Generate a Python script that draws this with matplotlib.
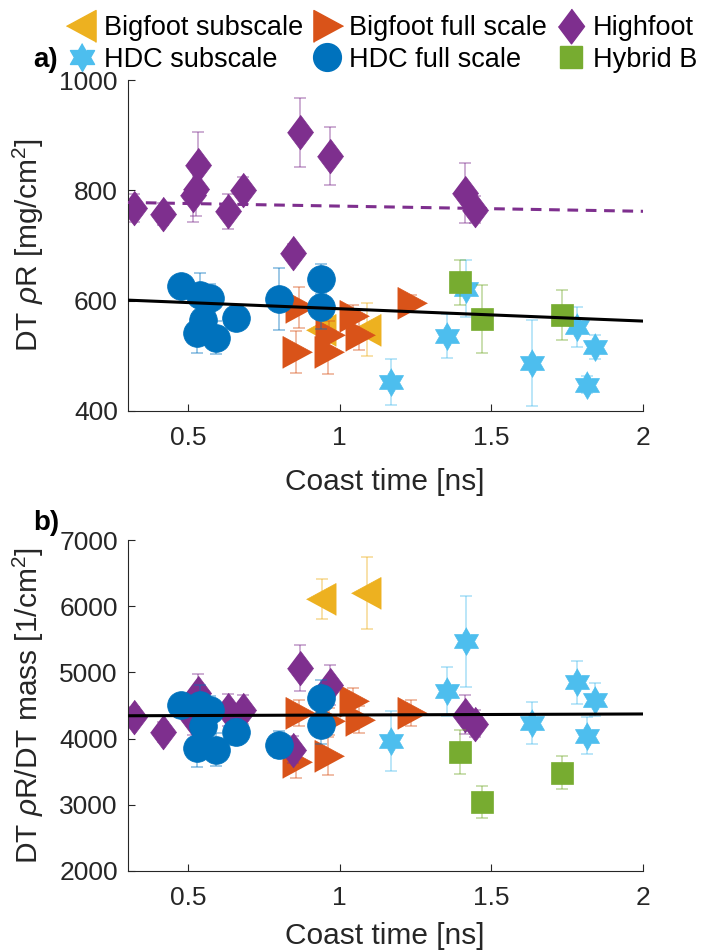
import numpy as np
import matplotlib
matplotlib.use('Agg')
import matplotlib.pyplot as plt
from matplotlib.lines import Line2D

plt.rcParams['font.family'] = ['Liberation Sans', 'DejaVu Sans']
plt.rcParams['mathtext.fontset'] = 'custom'
plt.rcParams['mathtext.rm'] = 'Liberation Sans'
plt.rcParams['mathtext.it'] = 'Liberation Sans:italic'

# --- данные ---
# Bigfoot subscale
t_bf_sub = [0.94, 1.09]
rhor_bf_sub = [547, 547]
rhor_bf_sub_err = [25, 48]
ratio_bf_sub = [6111, 6197]
ratio_bf_sub_err = [300, 540]

# Bigfoot full scale
t_bf_full = [0.865, 0.855, 0.96, 0.965, 1.045, 1.065, 1.235]
rhor_bf_full = [588, 507, 507, 538, 572, 538, 595]
rhor_bf_full_err = [37, 38, 40, 25, 20, 28, 15]
ratio_bf_full = [4388, 3650, 3734, 4261, 4562, 4287, 4388]
ratio_bf_full_err = [200, 250, 290, 200, 200, 200, 200]

# Highfoot
t_hf = [0.321, 0.416, 0.531, 0.525, 0.515, 0.630, 0.681, 0.868, 0.968, 0.847, 1.412, 1.447]
rhor_hf = [768, 757, 846, 803, 792, 762, 800, 905, 862, 687, 795, 765]
rhor_hf_err = [25, 20, 60, 50, 50, 32, 24, 62, 53, 15, 55, 25]
ratio_hf = [4327, 4100, 4689, 4450, 4300, 4437, 4437, 5066, 4814, 3834, 4362, 4226]
ratio_hf_err = [150, 150, 290, 250, 250, 240, 220, 350, 300, 200, 300, 200]

# HDC subscale
t_hdc_sub = [1.169, 1.355, 1.416, 1.635, 1.783, 1.843, 1.814]
rhor_hdc_sub = [453, 536, 622, 487, 552, 516, 448]
rhor_hdc_sub_err = [42, 40, 52, 78, 36, 21, 15]
ratio_hdc_sub = [3960, 4713, 5467, 4237, 4849, 4588, 4045]
ratio_hdc_sub_err = [450, 370, 680, 320, 330, 250, 280]

# HDC full scale
t_hdc_full = [0.478, 0.538, 0.571, 0.549, 0.528, 0.593, 0.659, 0.798, 0.939, 0.939]
rhor_hdc_full = [627, 610, 605, 565, 541, 533, 568, 603, 639, 588]
rhor_hdc_full_err = [20, 41, 25, 30, 35, 30, 20, 56, 27, 40]
ratio_hdc_full = [4513, 4513, 4437, 4186, 3860, 3835, 4096, 3910, 4614, 4211]
ratio_hdc_full_err = [150, 300, 200, 250, 290, 250, 200, 200, 270, 290]

# Hybrid B
t_hyb = [1.397, 1.470, 1.734]
rhor_hyb = [633, 567, 574]
rhor_hyb_err = [41, 62, 45]
ratio_hyb = [3794, 3040, 3483]
ratio_hyb_err = [330, 240, 250]

# линии аппроксимации
fit_t = [0.3, 2.0]
fit_rhor = [601, 563]
fit_rhor_hf = [778, 762]
fit_ratio = [4345, 4372]

labels = ['Bigfoot subscale', 'Bigfoot full scale', 'Highfoot',
          'HDC subscale', 'HDC full scale', 'Hybrid B']
colors = ['#EDB120', '#D95319', '#7E2F8E', '#4DBEEE', '#0072BD', '#77AC30']

# --- маркеры ---
ang = np.deg2rad(90 + 30 * np.arange(12))
rad = np.where(np.arange(12) % 2 == 0, 1.0, 1 / np.sqrt(3))
hexagram = list(zip(rad * np.cos(ang), rad * np.sin(ang)))
diamond = [(0, 1), (0.75, 0), (0, -1), (-0.75, 0)]
tri_right = [(1, 0), (-0.85, 1), (-0.85, -1)]
tri_left = [(-1, 0), (0.85, 1), (0.85, -1)]

markers = [(tri_left, 23), (tri_right, 23), (diamond, 25),
           (hexagram, 20), ('o', 20), ('s', 16)]

series_a = [(t_bf_sub, rhor_bf_sub, rhor_bf_sub_err),
            (t_bf_full, rhor_bf_full, rhor_bf_full_err),
            (t_hf, rhor_hf, rhor_hf_err),
            (t_hdc_sub, rhor_hdc_sub, rhor_hdc_sub_err),
            (t_hdc_full, rhor_hdc_full, rhor_hdc_full_err),
            (t_hyb, rhor_hyb, rhor_hyb_err)]
series_b = [(t_bf_sub, ratio_bf_sub, ratio_bf_sub_err),
            (t_bf_full, ratio_bf_full, ratio_bf_full_err),
            (t_hf, ratio_hf, ratio_hf_err),
            (t_hdc_sub, ratio_hdc_sub, ratio_hdc_sub_err),
            (t_hdc_full, ratio_hdc_full, ratio_hdc_full_err),
            (t_hyb, ratio_hyb, ratio_hyb_err)]

W, H = 701, 952
fig = plt.figure(figsize=(W / 100, H / 100), dpi=100)


def box(l, r, t, b):
    return [l / W, 1 - b / H, (r - l) / W, (b - t) / H]


ax_a = fig.add_axes(box(127.5, 643, 80, 411))
ax_b = fig.add_axes(box(127.5, 643, 540, 871))


def draw_panel(ax, series):
    for (x, y, e), c, (m, ms) in zip(series, colors, markers):
        ax.errorbar(x, y, yerr=e, fmt='none', ecolor=c, alpha=0.45,
                    elinewidth=1.2, capsize=4, capthick=1.2)
        ax.plot(x, y, linestyle='none', marker=m, markersize=ms,
                color=c, markeredgecolor=c, markeredgewidth=0.5)


def style(ax, ylim, yticks, ylabel, xlab_off):
    ax.set_xlim(0.3, 2)
    ax.set_ylim(*ylim)
    ax.set_xticks([0.5, 1, 1.5, 2])
    ax.set_xticklabels(['0.5', '1', '1.5', '2'])
    ax.set_yticks(yticks)
    for s in ['top', 'right']:
        ax.spines[s].set_visible(False)
    for s in ['left', 'bottom']:
        ax.spines[s].set_color('#262626')
        ax.spines[s].set_linewidth(0.8)
    ax.tick_params(direction='in', length=5, width=0.8, colors='#262626',
                   labelsize=19)
    ax.tick_params(axis='y', pad=7)
    ax.tick_params(axis='x', pad=11)
    ax.set_xlabel('Coast time [ns]', fontsize=21.5, color='#262626')
    ax.xaxis.set_label_coords(0.5, -xlab_off / 331)
    ax.xaxis.label.set_verticalalignment('center')
    ax.set_ylabel(ylabel, fontsize=21.5, color='#262626')
    ax.yaxis.set_label_coords(-99.5 / 515.5, 0.5)
    ax.yaxis.label.set_verticalalignment('center')


draw_panel(ax_a, series_a)
ax_a.plot(fit_t, fit_rhor, color='black', lw=2.2, zorder=3)
ax_a.plot(fit_t, fit_rhor_hf, color=colors[2], lw=2.2, zorder=3,
          linestyle=(0, (3.5, 2.5)))
style(ax_a, (400, 1000), [400, 600, 800, 1000], r'DT $\rho$R [mg/cm$^2$]', 71)

draw_panel(ax_b, series_b)
ax_b.plot(fit_t, fit_ratio, color='black', lw=2.2, zorder=3)
style(ax_b, (2000, 7000), [2000, 3000, 4000, 5000, 6000, 7000],
      r'DT $\rho$R/DT mass [1/cm$^2$]', 65)

fig.text(33 / W, 1 - 60 / H, 'a)', fontsize=20, fontweight='bold',
         ha='left', va='center')
fig.text(33 / W, 1 - 523 / H, 'b)', fontsize=20, fontweight='bold',
         ha='left', va='center')

# легенда (по столбцам)
handles = [Line2D([], [], linestyle='none', marker=m, markersize=ms,
                  color=c, markeredgecolor=c)
           for c, (m, ms) in zip(colors, markers)]
order = [0, 3, 1, 4, 2, 5]
fig.legend([handles[i] for i in order], [labels[i] for i in order],
           ncol=3, loc='center', bbox_to_anchor=(382 / W, 1 - 44 / H),
           frameon=False, fontsize=19.5, handlelength=1.1,
           handletextpad=0.25, columnspacing=0.35, labelspacing=0.2,
           borderpad=0)

fig.savefig('out.png', dpi=100)
